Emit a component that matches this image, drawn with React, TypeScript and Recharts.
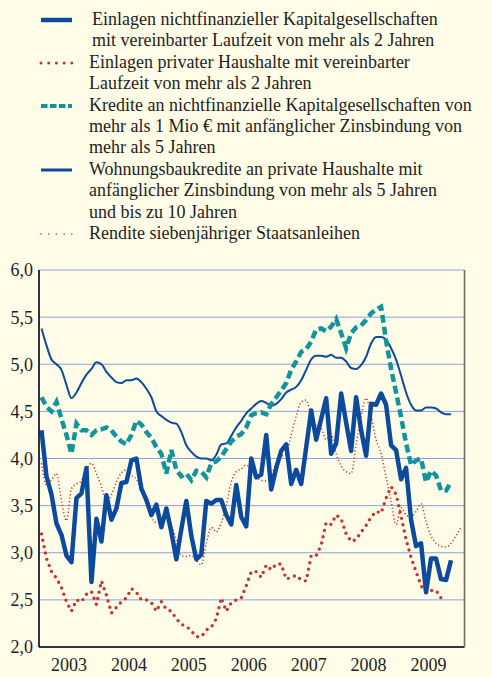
import { LineChart, Line, XAxis, YAxis, CartesianGrid } from 'recharts';

// monthly values, first entry = Jan 2003
const einlagenNfk = [
  4.3, 3.81, 3.62, 3.31, 3.19, 2.97, 2.9, 3.58, 3.63, 3.9, 2.69, 3.36,
  3.12, 3.61, 3.35, 3.47, 3.74, 3.75, 3.98, 4.0, 3.68, 3.56, 3.4, 3.51,
  3.27, 3.47, 3.22, 2.93, 3.25, 3.55, 3.18, 2.93, 2.98, 3.55, 3.52, 3.56,
  3.56, 3.4, 3.3, 3.72, 3.38, 3.28, 4.0, 3.8, 3.83, 4.25, 3.67, 3.9,
  4.08, 4.15, 3.73, 3.88, 3.73, 4.12, 4.51, 4.2, 4.42, 4.64, 4.05, 4.16,
  4.69, 4.38, 4.08, 4.65, 4.3, 4.03, 4.58, 4.57, 4.69, 4.57, 4.14, 4.09,
  3.78, 3.9, 3.35, 3.07, 3.1, 2.58, 2.94, 2.94, 2.72, 2.71, 2.92,
];

const einlagenHh = [
  3.2, 2.94, 2.8, 2.73, 2.63, 2.48, 2.38, 2.5, 2.48, 2.56, 2.59, 2.45,
  2.7, 2.55, 2.36, 2.42, 2.48, 2.52, 2.62, 2.58, 2.5, 2.5, 2.47, 2.38,
  2.48, 2.4, 2.38, 2.3, 2.24, 2.22, 2.17, 2.11, 2.11, 2.18, 2.21, 2.3,
  2.52, 2.38, 2.47, 2.5, 2.52, 2.65, 2.8, 2.8, 2.74, 2.87, 2.82, 2.88,
  2.88, 2.72, 2.74, 2.76, 2.71, 2.7, 2.97, 2.97, 3.08, 3.32, 3.3, 3.4,
  3.36, 3.2, 3.12, 3.14, 3.22, 3.29, 3.38, 3.44, 3.42, 3.58, 3.7, 3.62,
  3.39, 3.14, 2.95, 2.8, 2.65, 2.58, 2.6, 2.6, 2.52, 2.55,
];

const krediteNfk = [
  4.65, 4.55, 4.5, 4.6, 4.42, 4.25, 4.05, 4.37, 4.3, 4.3, 4.25, 4.3,
  4.31, 4.33, 4.3, 4.23, 4.18, 4.15, 4.25, 4.4, 4.36, 4.28, 4.22, 4.12,
  4.05, 3.84, 4.09, 3.88, 3.81, 3.84, 3.77, 3.87, 3.86, 3.8, 3.95, 3.97,
  4.02, 4.1, 4.18, 4.23, 4.26, 4.33, 4.46, 4.48, 4.49, 4.47, 4.58, 4.65,
  4.72, 4.8, 4.94, 5.03, 5.13, 5.16, 5.24, 5.37, 5.38, 5.35, 5.4, 5.48,
  5.33, 5.17, 5.33, 5.39, 5.41, 5.47, 5.54, 5.58, 5.61, 5.25, 4.95, 4.7,
  4.44, 4.16, 3.93, 3.98, 4.0, 3.75, 3.87, 3.82, 3.66, 3.66, 3.75,
];

const wohnungsbau = [
  5.38, 5.2, 5.05, 5.0, 4.94, 4.78, 4.64, 4.7, 4.8, 4.89, 4.95, 5.02,
  5.0, 4.92, 4.86, 4.81, 4.8, 4.83, 4.83, 4.85, 4.81, 4.74, 4.65, 4.5,
  4.45, 4.41, 4.38, 4.37, 4.28, 4.14, 4.07, 4.02, 4.0, 4.0, 3.98, 4.04,
  4.15, 4.16, 4.24, 4.33, 4.4, 4.48, 4.53, 4.58, 4.61, 4.59, 4.56, 4.58,
  4.63, 4.7, 4.73, 4.76, 4.83, 4.94, 5.05, 5.09, 5.09, 5.08, 5.1, 5.07,
  5.07, 5.03, 4.96, 4.95, 4.99, 5.08, 5.22, 5.29, 5.29, 5.26, 5.17, 5.05,
  4.88, 4.7, 4.57, 4.51, 4.51, 4.54, 4.54, 4.53, 4.49, 4.47, 4.47,
];

const rendite = [
  3.95, 3.72, 3.77, 3.84, 3.55, 3.34, 3.68, 3.73, 3.76, 3.88, 3.95, 3.84,
  3.7, 3.54, 3.62, 3.75, 3.85, 3.88, 3.82, 3.78, 3.65, 3.52, 3.38, 3.32,
  3.33, 3.42, 3.3, 3.13, 2.97, 2.96, 2.97, 2.92, 2.87, 3.1, 3.27, 3.22,
  3.32, 3.5, 3.75, 3.86, 3.89, 3.93, 3.88, 3.8, 3.77, 3.76, 3.82, 3.95,
  4.02, 4.05, 4.25, 4.45, 4.6, 4.62, 4.45, 4.35, 4.32, 4.2, 4.25, 4.05,
  3.92, 3.86, 3.84, 4.15, 4.45, 4.64, 4.45, 4.2, 4.05, 3.8, 3.55, 3.3,
  3.48, 3.4, 3.38, 3.44, 3.52, 3.33, 3.18, 3.1, 3.07, 3.06, 3.1, 3.18, 3.27,
];

const years = ['2003', '2004', '2005', '2006', '2007', '2008', '2009'];
const yTicks = [2, 2.5, 3, 3.5, 4, 4.5, 5, 5.5, 6];

const rows = rendite.map((r, i) => ({
  x: i + 0.5,
  einlagenNfk: einlagenNfk[i],
  einlagenHh: einlagenHh[i],
  krediteNfk: krediteNfk[i],
  wohnungsbau: wohnungsbau[i],
  rendite: r,
}));

const yearEdges = [...years.map((_, k) => k * 12), years.length * 12];
const yearMids = years.map((_, k) => k * 12 + 6);

const BLUE = '#0c4a9e';
const TEAL = '#12949d';
const RED = '#c8332b';
const GRID = '#8e9fe3';
const INK = '#1e1e1e';

const legend = [
  {
    lines: ['Einlagen nichtfinanzieller Kapitalgesellschaften', 'mit vereinbarter Laufzeit von mehr als 2 Jahren'],
    stroke: BLUE, width: 4.5, dash: undefined, cap: 'butt', indent: 3,
  },
  {
    lines: ['Einlagen privater Haushalte mit vereinbarter', 'Laufzeit von mehr als 2 Jahren'],
    stroke: RED, width: 3, dash: '0 7.7', cap: 'round', indent: 0,
  },
  {
    lines: ['Kredite an nichtfinanzielle Kapitalgesellschaften von', 'mehr als 1 Mio € mit anfänglicher Zinsbindung von', 'mehr als 5 Jahren'],
    stroke: TEAL, width: 4, dash: '6.5 2.5', cap: 'butt', indent: 0,
  },
  {
    lines: ['Wohnungsbaukredite an private Haushalte mit', 'anfänglicher Zinsbindung von mehr als 5 Jahren', 'und bis zu 10 Jahren'],
    stroke: BLUE, width: 3, dash: undefined, cap: 'butt', indent: 0,
  },
  {
    lines: ['Rendite siebenjähriger Staatsanleihen'],
    stroke: RED, width: 1.6, dash: '0 7.7', cap: 'round', indent: 0,
  },
];

const comma = (v: number) => v.toFixed(1).replace('.', ',');

function Legend() {
  return (
    <div style={{ position: 'absolute', left: 0, top: 9, lineHeight: '21.4px', fontSize: 18, color: INK }}>
      {legend.map((item, i) => (
        <div key={i} style={{ display: 'flex', alignItems: 'flex-start' }}>
          <svg width={34} height={21.4} style={{ marginLeft: 39, flex: 'none' }}>
            <line x1={2} x2={33} y1={11} y2={11} stroke={item.stroke} strokeWidth={item.width}
              strokeDasharray={item.dash} strokeLinecap={item.cap as any} />
          </svg>
          <div style={{ marginLeft: 16 + item.indent, whiteSpace: 'nowrap' }}>
            {item.lines.map((t, j) => <div key={j}>{t}</div>)}
          </div>
        </div>
      ))}
    </div>
  );
}

export default function App() {
  return (
    <div style={{
      position: 'absolute', left: 0, top: 0, width: 492, height: 677, overflow: 'hidden',
      background: '#fffde8', fontFamily: "'Liberation Serif', 'Times New Roman', serif",
    }}>
      <Legend />
      <div style={{ position: 'absolute', left: 0, top: 258 }}>
        <LineChart width={492} height={419} data={rows} margin={{ top: 12, right: 0, bottom: 0, left: 0 }}>
          <CartesianGrid stroke={GRID} strokeWidth={1} xAxisId={0} yAxisId="l" />
          <XAxis xAxisId={0} type="number" dataKey="x" domain={[0, 85.2]} ticks={yearEdges}
            tick={false} tickSize={7} height={1} axisLine={{ stroke: '#000', strokeWidth: 1.3 }}
            tickLine={{ stroke: '#000', strokeWidth: 1.3 }} />
          <XAxis xAxisId="yr" type="number" dataKey="x" domain={[0, 85.2]} ticks={yearMids}
            tickFormatter={(v: number) => years[(v - 6) / 12]} axisLine={false} tickLine={false}
            tickSize={0} tickMargin={10} height={29} interval={0}
            tick={{ fontSize: 18, fill: INK }} />
          <YAxis yAxisId="l" domain={[2, 6]} ticks={yTicks} width={39} tickFormatter={comma}
            axisLine={{ stroke: '#000', strokeWidth: 1.5 }} tickLine={false} tickSize={0} tickMargin={6}
            interval={0} tick={{ fontSize: 18, fill: INK }} />
          <YAxis yAxisId="r" orientation="right" domain={[2, 6]} ticks={yTicks} width={27.5}
            tickFormatter={comma} axisLine={{ stroke: '#6b6b6b', strokeWidth: 1.6 }} tickLine={false}
            tickSize={0} tickMargin={5} interval={0} tick={{ fontSize: 18, fill: INK }} />
          <Line xAxisId={0} yAxisId="l" type="monotone" dataKey="rendite" stroke={RED} strokeWidth={1.5}
            strokeDasharray="1.2 2.3" dot={false} isAnimationActive={false} />
          <Line xAxisId={0} yAxisId="l" type="linear" dataKey="einlagenHh" stroke={RED} strokeWidth={3.4}
            strokeDasharray="0 6.5" strokeLinecap="round" dot={false} isAnimationActive={false} />
          <Line xAxisId={0} yAxisId="l" type="monotone" dataKey="wohnungsbau" stroke={BLUE} strokeWidth={2}
            dot={false} isAnimationActive={false} />
          <Line xAxisId={0} yAxisId="l" type="linear" dataKey="krediteNfk" stroke={TEAL} strokeWidth={4.5}
            strokeDasharray="8 4" dot={false} isAnimationActive={false} />
          <Line xAxisId={0} yAxisId="l" type="linear" dataKey="einlagenNfk" stroke={BLUE} strokeWidth={4.5}
            strokeLinejoin="round" dot={false} isAnimationActive={false} />
        </LineChart>
      </div>
    </div>
  );
}
